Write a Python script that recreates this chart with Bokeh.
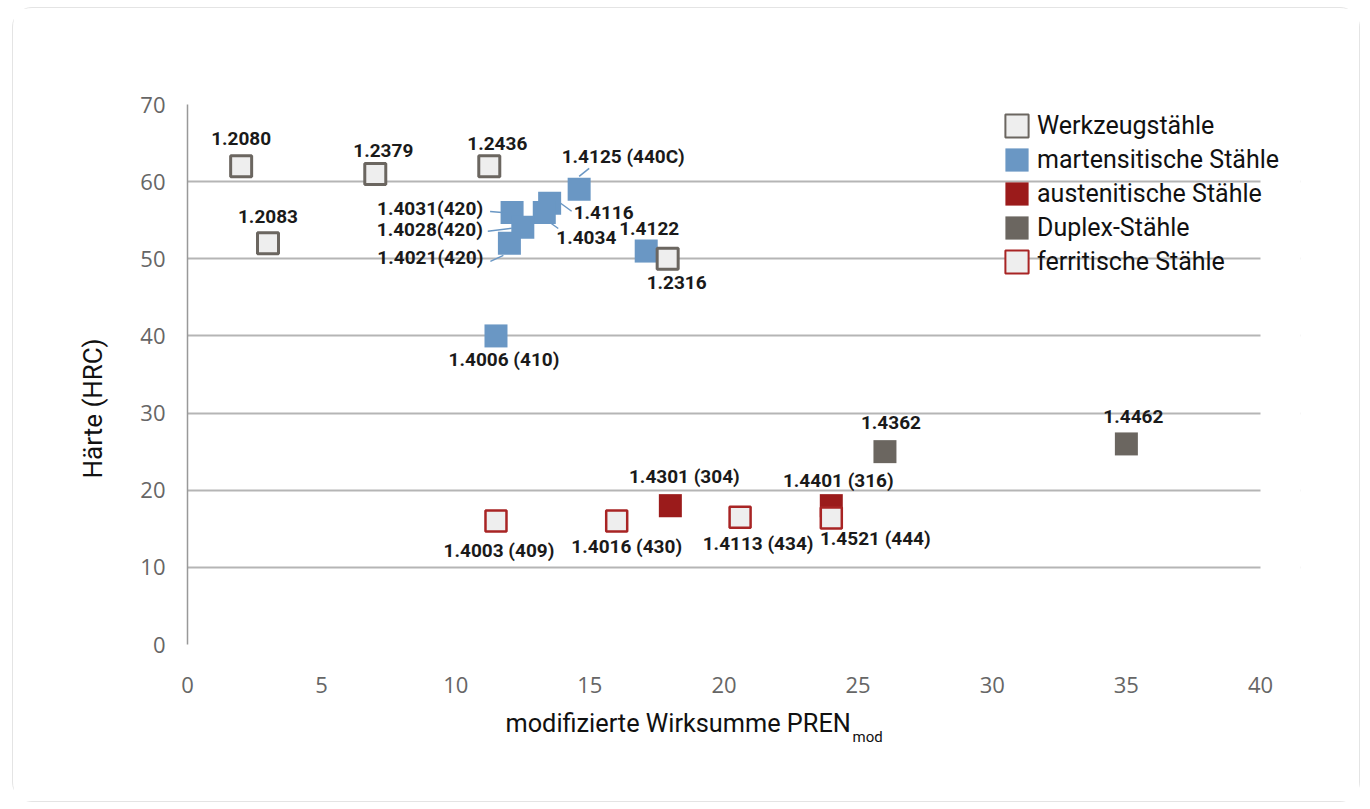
from bokeh.plotting import figure
from bokeh.models import ColumnDataSource, Legend, LegendItem, Range1d, Title
from bokeh.core.properties import value
from bokeh.embed import file_html
from bokeh.resources import INLINE

NAN = float("nan")

# ---------------- data ----------------
werk_names = ["1.2080", "1.2083", "1.2379", "1.2436", "1.2316"]
werk_x = [2.0, 3.0, 7.0, 11.25, 17.9]
werk_y = [62, 52, 61, 62, 50]

mart_names = ["1.4125 (440C)", "1.4116", "1.4034", "1.4031(420)", "1.4028(420)",
              "1.4021(420)", "1.4122", "1.4006 (410)"]
mart_x = [14.6, 13.5, 13.3, 12.1, 12.5, 12.0, 17.1, 11.5]
mart_y = [59.0, 57.2, 56.0, 56.0, 54.1, 52.0, 51.0, 40.0]

aust_names = ["1.4301 (304)", "1.4401 (316)"]
aust_x = [18.0, 24.0]
aust_y = [18.0, 18.0]

dup_names = ["1.4362", "1.4462"]
dup_x = [26.0, 35.0]
dup_y = [25.0, 26.0]

ferr_names = ["1.4003 (409)", "1.4016 (430)", "1.4113 (434)", "1.4521 (444)"]
ferr_x = [11.5, 16.0, 20.6, 24.0]
ferr_y = [16.0, 16.0, 16.5, 16.4]

series_labels = ["Werkzeugstähle", "martensitische Stähle", "austenitische Stähle",
                 "Duplex-Stähle", "ferritische Stähle"]

x_ticks = [0, 5, 10, 15, 20, 25, 30, 35, 40]
y_ticks = [0, 10, 20, 30, 40, 50, 60, 70]

# ---------------- styles ----------------
BLUE = "#6a97c4"
RED = "#9b1b1b"
DUP = "#6b6660"
LIGHT = "#eeeeee"
FERR_LINE = "#a82424"

PLOT_W, FRAME_H = 1073, 540        # pixel size of the 0..40 x 0..70 chart area
EXTRA_W = 40                       # room at the right for the legend text
XMAX, YMAX = 40, 70
PX_X = PLOT_W / XMAX
PX_Y = FRAME_H / YMAX
X_END = XMAX + EXTRA_W / PX_X

p = figure(frame_width=PLOT_W + EXTRA_W, frame_height=FRAME_H, output_backend="svg",
           toolbar_location=None,
           x_range=Range1d(0, X_END), y_range=Range1d(0, YMAX),
           min_border_left=174, min_border_right=59, min_border_top=96,
           min_border_bottom=157)
p.styles = {"border": "1px solid #e4e4e4", "border-radius": "20px",
            "margin-left": "12px", "margin-top": "7px"}
p.outline_line_color = None
p.background_fill_color = "white"
p.border_fill_color = "white"

p.xaxis.ticker = x_ticks
p.yaxis.ticker = y_ticks
p.xaxis.bounds = (0, XMAX)
for ax in (p.xaxis, p.yaxis):
    ax.major_tick_line_color = None
    ax.minor_tick_line_color = None
    ax.major_label_text_font = "Open Sans"
    ax.major_label_text_font_size = "22px"
    ax.major_label_text_color = "#666666"
p.xaxis.axis_line_color = None
p.yaxis.axis_line_color = "#999999"
p.yaxis.axis_line_width = 1.5
p.xaxis.major_label_standoff = 26
p.yaxis.major_label_standoff = 16
p.xgrid.grid_line_color = None
p.ygrid.grid_line_color = "#b5b5b5"
p.ygrid.grid_line_width = 2

# white mask: grid lines stop at x = 40 (the extra room is only for the legend)
p.quad(left=[XMAX], right=[X_END + 1], bottom=[-1], top=[YMAX + 1],
       fill_color="white", line_color=None)

# ---------------- markers ----------------
r_mart = p.scatter(mart_x, mart_y, marker="square", size=23, fill_color=BLUE,
                   line_color=None)
r_aust = p.scatter(aust_x, aust_y, marker="square", size=23, fill_color=RED,
                   line_color=None)
r_dup = p.scatter(dup_x, dup_y, marker="square", size=23, fill_color=DUP,
                  line_color=None)
r_werk = p.scatter(werk_x, werk_y, marker="square", size=21, fill_color=LIGHT,
                   line_color=DUP, line_width=3)
r_ferr = p.scatter(ferr_x, ferr_y, marker="square", size=21, fill_color=LIGHT,
                   line_color=FERR_LINE, line_width=2.5)

# ---------------- point labels (pixel offsets) ----------------
lab_off = {
    "1.2080": (0, -28, "center"), "1.2083": (0, -27, "center"),
    "1.2379": (8, -23, "center"), "1.2436": (8, -23, "center"),
    "1.2316": (9, 24, "center"),
    "1.4125 (440C)": (44, -33, "center"), "1.4116": (24, 9, "left"),
    "1.4034": (12, 25, "left"), "1.4031(420)": (-29, -4, "right"),
    "1.4028(420)": (-40, 2, "right"), "1.4021(420)": (-26, 14, "right"),
    "1.4122": (3, -23, "center"), "1.4006 (410)": (8, 24, "center"),
    "1.4301 (304)": (14, -29, "center"), "1.4401 (316)": (7, -25, "center"),
    "1.4362": (6, -29, "center"), "1.4462": (7, -27, "center"),
    "1.4003 (409)": (3, 29, "center"), "1.4016 (430)": (10, 25, "center"),
    "1.4113 (434)": (18, 26, "center"), "1.4521 (444)": (44, 21, "center"),
}
all_names = werk_names + mart_names + aust_names + dup_names + ferr_names
all_x = werk_x + mart_x + aust_x + dup_x + ferr_x
all_y = werk_y + mart_y + aust_y + dup_y + ferr_y
src = ColumnDataSource(dict(
    x=all_x, y=all_y, text=all_names,
    dx=[lab_off[n][0] for n in all_names],
    dy=[lab_off[n][1] for n in all_names],
    align=[lab_off[n][2] for n in all_names],
))
p.text(x="x", y="y", text="text", x_offset="dx", y_offset="dy",
       text_align="align", text_baseline="middle", source=src,
       text_font=value("Roboto"), text_font_style="bold",
       text_font_size="19px", text_color="#1a1a1a")

# leader lines (pixel offsets from the point: start, end)
leaders = {
    "1.4125 (440C)": ((0, -13), (10, -21)),
    "1.4116": ((11, 0), (22, 8)),
    "1.4034": ((7, 11), (14, 16)),
    "1.4031(420)": ((-10, 0), (-22, -1)),
    "1.4028(420)": ((-11, 1), (-35, 4)),
    "1.4021(420)": ((-6, 12), (-19, 18)),
}
lx0, ly0, lx1, ly1 = [], [], [], []
for n, ((a, b), (c, d)) in leaders.items():
    i = all_names.index(n)
    lx0.append(all_x[i] + a / PX_X)
    ly0.append(all_y[i] - b / PX_Y)
    lx1.append(all_x[i] + c / PX_X)
    ly1.append(all_y[i] - d / PX_Y)
p.segment(lx0, ly0, lx1, ly1, line_color=BLUE, line_width=1.5)

# ---------------- legend (proxy area glyphs, nothing drawn in the plot) ----------------
def proxy(**kw):
    return p.rect(x=[NAN], y=[NAN], width=1, height=1, **kw)

lg_werk = proxy(fill_color=LIGHT, line_color=DUP, line_width=2)
lg_mart = proxy(fill_color=BLUE, line_color=None)
lg_aust = proxy(fill_color=RED, line_color=None)
lg_dup = proxy(fill_color=DUP, line_color=None)
lg_ferr = proxy(fill_color=LIGHT, line_color=FERR_LINE, line_width=2)

legend = Legend(items=[
    LegendItem(label=series_labels[0], renderers=[lg_werk]),
    LegendItem(label=series_labels[1], renderers=[lg_mart]),
    LegendItem(label=series_labels[2], renderers=[lg_aust]),
    LegendItem(label=series_labels[3], renderers=[lg_dup]),
    LegendItem(label=series_labels[4], renderers=[lg_ferr]),
], location=(815, 368))
legend.background_fill_alpha = 0
legend.border_line_color = None
legend.padding = 0
legend.margin = 0
legend.spacing = 5
legend.glyph_width = 29
legend.glyph_height = 29
legend.label_height = 29
legend.label_standoff = 6
legend.label_text_font = "Roboto"
legend.label_text_font_size = "25px"
legend.label_text_color = "#111111"
legend.label_text_baseline = "middle"
p.add_layout(legend)

# ---------------- axis titles ----------------
p.add_layout(Title(text="Härte (HRC)", align="left", offset=166, standoff=60,
                   text_font="Roboto", text_font_size="26px",
                   text_font_style="normal", text_color="#111111"), "left")
p.add_layout(Title(text="modifizierte Wirksumme PREN", align="left", offset=318,
                   standoff=23, text_font="Roboto", text_font_size="25.3px",
                   text_font_style="normal", text_color="#111111"), "below")
p.add_layout(Title(text="mod", align="left", offset=665, standoff=-44,
                   vertical_align="top",
                   text_font="Roboto", text_font_size="15px",
                   text_font_style="normal", text_color="#111111"), "below")

open("out.html", "w").write(file_html(p, INLINE))
